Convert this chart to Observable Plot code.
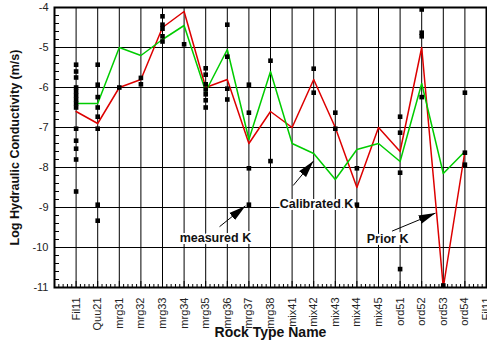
<!DOCTYPE html>
<html><head><meta charset="utf-8">
<script src="https://cdn.jsdelivr.net/npm/d3@7"></script>
<script src="https://cdn.jsdelivr.net/npm/@observablehq/plot@0.6"></script>
<style>body{margin:0;background:#fff;} svg{display:block}</style>
</head><body><div id="chart"></div>
<script>
const rockTypes = ["Fil11","Quu21","mrg31","mrg32","mrg33","mrg34","mrg35","mrg36","mrg37","mrg38","mix41","mix42","mix43","mix44","mix45","ord51","ord52","ord53","ord54"];
const tickLabels = ["Fil11","Quu21","mrg31","mrg32","mrg33","mrg34","mrg35","mrg36","mrg37","mrg38","mix41","mix42","mix43","mix44","mix45","ord51","ord52","ord53","ord54","Fil11"];
const priorK = [-6.6,-6.9,-6.0,-5.8,-4.5,-4.1,-6.0,-5.8,-7.4,-6.6,-7.0,-5.8,-7.0,-8.5,-7.0,-7.6,-5.0,-11.0,-7.6];
const calibratedK = [-6.4,-6.4,-5.0,-5.2,-4.8,-4.45,-6.1,-5.05,-7.3,-5.6,-7.4,-7.65,-8.3,-7.55,-7.4,-7.85,-5.9,-8.15,-7.6];
const measuredK = [
  [-5.43,-5.6,-5.75,-6.0,-6.1,-6.2,-6.3,-6.4,-6.5,-7.03,-7.33,-7.53,-7.8,-8.6],
  [-5.43,-5.93,-6.24,-6.5,-6.73,-7.03,-8.93,-9.33],
  [-6.0],
  [-5.76,-5.92],
  [-4.22,-4.43,-4.53,-4.72,-4.85],
  [-4.92],
  [-5.52,-5.68,-5.92,-6.05,-6.17,-6.32,-6.5],
  [-4.43,-5.23,-6.03,-6.3],
  [-5.93,-6.63,-8.02,-8.93],
  [-5.33,-7.84],
  [],
  [-5.53,-6.13],
  [-6.63,-7.03],
  [-8.02,-8.93],
  [],
  [-6.73,-7.13,-8.13,-10.54],
  [-4.05,-4.63,-4.72,-6.24],
  [-10.95],
  [-6.13,-7.63,-7.93]
];
const yMajorTicks = [-11,-10,-9,-8,-7,-6,-5,-4];
const annotationLabels = ["measured K","Calibrated K","Prior K"];
const annotationX = [6.45, 11.13, 14.42];
const annotationY = [-9.75, -8.91, -9.78];
const arrowX1 = [6.64, 10.05, 14.63];
const arrowY1 = [-9.48, -8.45, -9.59];
const arrowX2 = [7.84, 10.99, 16.64];
const arrowY2 = [-8.96, -7.84, -9.14];

const prior = priorK.map((v, i) => ({i, v}));
const calib = calibratedK.map((v, i) => ({i, v}));
const measured = measuredK.flatMap((vals, i) => vals.map(v => ({i, v})));
const annotations = annotationLabels.map((t, k) => ({t, x: annotationX[k], y: annotationY[k]}));
const arrows = arrowX1.map((_, k) => ({x1: arrowX1[k], y1: arrowY1[k], x2: arrowX2[k], y2: arrowY2[k]}));
const xMinor = d3.range(-1, 19.001, 0.2).filter(v => Math.abs(v - Math.round(v)) > 1e-6);
const yMinor = d3.range(-11, -3.999, 0.2);

function filledHead(color, context) {
  const doc = (context && context.document) || document;
  const ns = "http://www.w3.org/2000/svg";
  const m = doc.createElementNS(ns, "marker");
  m.setAttribute("viewBox", "0 -5 17 10");
  m.setAttribute("refX", "17");
  m.setAttribute("refY", "0");
  m.setAttribute("markerWidth", "17");
  m.setAttribute("markerHeight", "10");
  m.setAttribute("markerUnits", "userSpaceOnUse");
  m.setAttribute("orient", "auto");
  const p = doc.createElementNS(ns, "path");
  p.setAttribute("d", "M0,-4.5L17,0L0,4.5Z");
  p.setAttribute("fill", "black");
  p.setAttribute("stroke", "none");
  m.appendChild(p);
  return m;
}

const plot = Plot.plot({
  width: 487, height: 341,
  marginLeft: 54, marginRight: 1, marginTop: 7, marginBottom: 54,
  style: {fontFamily: "'Liberation Sans', Arial, sans-serif", fontSize: "11px", background: "white", color: "black"},
  x: {type: "linear", domain: [-1, 19]},
  y: {domain: [-11, -4]},
  marks: [
    Plot.gridY(yMajorTicks, {stroke: "black", strokeOpacity: 1, strokeWidth: 1}),
    Plot.gridX(d3.range(0, 19), {stroke: "black", strokeOpacity: 1, strokeWidth: 1}),
    Plot.axisY(yMajorTicks, {tickSize: 0, tickPadding: 6, tickFormat: d => String(d), label: null, fill: "#222"}),
    Plot.axisY(yMinor, {tickSize: -5, tickFormat: () => "", label: null}),
    Plot.axisX(d3.range(0, 20), {tickSize: 0, tickPadding: 10, tickRotate: -90, tickFormat: i => tickLabels[i], label: null, fill: "#222"}),
    Plot.axisX(d3.range(0, 20), {tickSize: -6, tickFormat: () => "", label: null}),
    Plot.axisX(xMinor, {tickSize: -3, tickFormat: () => "", label: null}),
    Plot.line(prior, {x: "i", y: "v", stroke: "#dd0000", strokeWidth: 1.5}),
    Plot.line(calib, {x: "i", y: "v", stroke: "#00cc00", strokeWidth: 1.5}),
    Plot.dot(measured, {x: "i", y: "v", symbol: "square", r: 2.6, fill: "black", stroke: "none"}),
    Plot.frame({stroke: "black", strokeWidth: 2}),
    Plot.text(annotations, {x: "x", y: "y", text: "t", fontWeight: "bold", fontSize: 12.5, fill: "#111", stroke: "white", strokeWidth: 4}),
    Plot.link(arrows, {x1: "x1", y1: "y1", x2: "x2", y2: "y2", stroke: "black", strokeWidth: 1, markerEnd: filledHead}),
    Plot.text(["Log Hydraulic Conductivity (m/s)"], {frameAnchor: "left", textAnchor: "middle", lineAnchor: "middle", dx: -40, rotate: -90, fontWeight: "bold", fontSize: 12.5, fill: "#111"}),
    Plot.text(["Rock Type Name"], {frameAnchor: "bottom", lineAnchor: "middle", dy: 45, fontWeight: "bold", fontSize: 14, fill: "#111"})
  ]
});
document.getElementById("chart").appendChild(plot);
</script>
</body></html>
